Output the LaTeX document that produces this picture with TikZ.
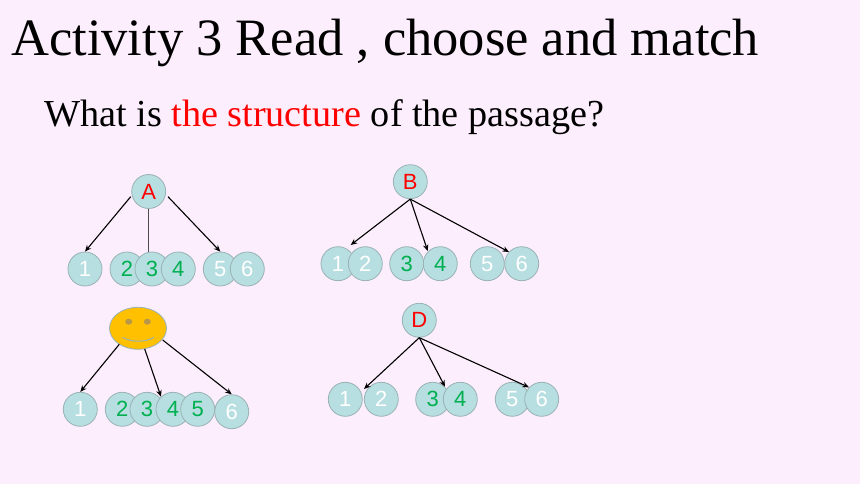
\documentclass[tikz,border=0pt]{standalone}
\usepackage{fontspec}
\setmainfont{Liberation Serif}
\newfontfamily\arialf{Liberation Sans}
\usetikzlibrary{arrows.meta,shapes.geometric}
\definecolor{bgc}{HTML}{FCEEFC}
\definecolor{ballc}{HTML}{B7DEE0}
\definecolor{edgec}{HTML}{9AB2B5}
\definecolor{greenc}{HTML}{00B050}
\definecolor{smilec}{HTML}{FFC000}
\definecolor{facec}{HTML}{B8964A}
\tikzset{
  x=1pt,y=-1pt,
  ball/.style={circle,draw=edgec,fill=ballc,line width=0.8pt,minimum size=34pt,inner sep=0pt,font=\arialf\fontsize{22}{26}\selectfont},
  wb/.style={ball,text=white},
  gb/.style={ball,text=greenc},
  rb/.style={ball,text=red},
  arrowline/.style={draw=black,line width=1.1pt,-{Stealth[length=6.5pt,width=5.5pt]}},
  title/.style={anchor=base west,inner sep=0pt,font=\fontsize{52.5}{62}\selectfont},
  subtitle/.style={anchor=base west,inner sep=0pt,font=\fontsize{38.2}{46}\selectfont}
}
\begin{document}
\begin{tikzpicture}
\useasboundingbox (0,0) rectangle (860,484);
\fill[bgc] (0,0) rectangle (860,484);
\node[title] (ttl) at (11,56) {Activity 3 Read , choose and match};
\node[subtitle] (sub) at (44,127) {What is \textcolor{red}{the structure} of the passage?};
% Group A
\node[rb] (A) at (148.7,191.5) {A};
\node[wb] (a1) at (85,269) {1};
\node[gb] (a2) at (127,269) {2};
\node[gb] (a3) at (152,269) {3};
\node[gb] (a4) at (178.3,269) {4};
\node[wb] (a5) at (220.3,269) {5};
\node[wb] (a6) at (247.3,269) {6};
\coordinate (as1) at (130.7,196.7);
\coordinate (as3) at (168,196.7);
\draw[arrowline] (as1) -- (a1.north);
\draw[arrowline] (as3) -- (a5.north);
\draw[draw=black!70,line width=1.5pt] (A.south) -- (A.south |- a3.north);
% Group B
\node[rb] (B) at (410.3,181.7) {B};
\node[wb] (b1) at (338,263.7) {1};
\node[wb] (b2) at (365.3,263.7) {2};
\node[gb] (b3) at (406.7,263.7) {3};
\node[gb] (b4) at (440.3,263.7) {4};
\node[wb] (b5) at (487.3,263.7) {5};
\node[wb] (b6) at (521.7,263.7) {6};
\coordinate (bt1) at (350.7,245);
\coordinate (bt2) at (427.7,251);
\coordinate (bt3) at (509,252);
\draw[arrowline] (B.south) -- (bt1);
\draw[arrowline] (B.south) -- (bt2);
\draw[arrowline] (B.south) -- (bt3);
% Group C (smiley)
\node[ellipse,draw=edgec,fill=smilec,line width=0.8pt,minimum width=57pt,minimum height=42pt,inner sep=0pt] (C) at (138,328.3) {};
\fill[facec] (128.7,321.7) ellipse [x radius=3.5,y radius=3];
\fill[facec] (147.3,321.7) ellipse [x radius=3.5,y radius=3];
\draw[edgec,line width=1pt] (122.7,337.3) .. controls (131,342.5) and (146,342.5) .. (154,337.3);
\node[wb] (c1) at (80.3,409.3) {1};
\node[gb] (c2) at (122.3,409.3) {2};
\node[gb] (c3) at (147,409.3) {3};
\node[gb] (c4) at (173,409.3) {4};
\node[gb] (c5) at (197.7,409.3) {5};
\node[wb] (c6) at (231.7,411.7) {6};
\coordinate (cs1) at (119.3,344.3);
\coordinate (cs2) at (144.7,349);
\coordinate (cs3) at (162.7,340);
\coordinate (ct2) at (161,396.7);
\draw[arrowline] (cs1) -- (c1.north);
\draw[arrowline] (cs2) -- (ct2);
\draw[arrowline] (cs3) -- (c6.north);
% Group D
\node[rb] (D) at (419.3,320.3) {D};
\node[wb] (d1) at (345.3,399.3) {1};
\node[wb] (d2) at (381.3,399.3) {2};
\node[gb] (d3) at (432.7,399.3) {3};
\node[gb] (d4) at (460.3,399.3) {4};
\node[wb] (d5) at (512.3,399.3) {5};
\node[wb] (d6) at (541.7,399.3) {6};
\coordinate (dt1) at (364,389);
\coordinate (dt2) at (445,386.7);
\coordinate (dt3) at (529,387.3);
\draw[arrowline] (D.south) -- (dt1);
\draw[arrowline] (D.south) -- (dt2);
\draw[arrowline] (D.south) -- (dt3);
\end{tikzpicture}
\end{document}
